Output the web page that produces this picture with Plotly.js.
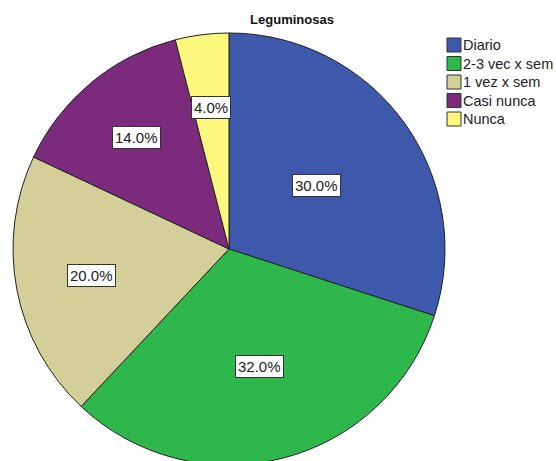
<!DOCTYPE html>
<html>
<head>
<meta charset="utf-8">
<script src="https://cdn.plot.ly/plotly-3.0.1.min.js"></script>
<style>
html,body{margin:0;padding:0;overflow:hidden;background:#fff;}
#chart{width:556px;height:470px;}
</style>
</head>
<body>
<div id="chart"></div>
<script>
const categories = ["Diario", "2-3 vec x sem", "1 vez x sem", "Casi nunca", "Nunca"];
const values = [30.0, 32.0, 20.0, 14.0, 4.0];
const colors = ["#3E58AC", "#2EB84B", "#D4CE99", "#7C2A7C", "#FBF87D"];
// radial distance of each label box, as a fraction of the radius (style)
const labelRadius = [0.50, 0.56, 0.65, 0.67, 0.66];

const W = 556, H = 470;
const M = {l: 13, r: 111, t: 33, b: 5};
const PW = W - M.l - M.r, PH = H - M.t - M.b;
const px2x = px => (px - M.l) / PW;
const py2y = py => (H - M.b - py) / PH;

const FONT = "Liberation Sans, Arial, sans-serif";
const total = values.reduce((a, b) => a + b, 0);
const annotations = [];
const shapes = [];
let cum = 0;
values.forEach((v, i) => {
  const mid = (cum + v / 2) / total * 2 * Math.PI;
  cum += v;
  const r = labelRadius[i] * 0.5;
  annotations.push({
    xref: "paper", yref: "paper",
    x: 0.5 + r * Math.sin(mid),
    y: 0.5 + r * Math.cos(mid),
    xanchor: "center", yanchor: "middle",
    text: (v / total * 100).toFixed(1) + "%",
    showarrow: false,
    font: {family: FONT, size: 15, color: "#222"},
    bgcolor: "#ffffff",
    bordercolor: "#333333",
    borderwidth: 1,
    borderpad: 2
  });
});

// custom legend (SPSS style: small square directly followed by label)
const legendLeft = 447, legendTop = 45, legendStep = 18.5, box = 14;
categories.forEach((c, i) => {
  const cy = legendTop + legendStep * i;
  shapes.push({
    type: "rect", xref: "paper", yref: "paper",
    x0: px2x(legendLeft), x1: px2x(legendLeft + box),
    y0: py2y(cy - box / 2), y1: py2y(cy + box / 2),
    fillcolor: colors[i],
    line: {color: "#333333", width: 1}
  });
  annotations.push({
    xref: "paper", yref: "paper",
    x: px2x(legendLeft + box + 1), y: py2y(cy),
    xanchor: "left", yanchor: "middle",
    text: c, showarrow: false,
    font: {family: FONT, size: 14.5, color: "#222"},
    borderpad: 0
  });
});

const trace = {
  type: "pie",
  labels: categories,
  values: values,
  sort: false,
  direction: "clockwise",
  rotation: 0,
  marker: {colors: colors, line: {color: "#222222", width: 1}},
  textinfo: "none",
  hoverinfo: "label+percent",
  domain: {x: [0, 1], y: [0, 1]}
};

const layout = {
  width: W, height: H,
  margin: {l: M.l, r: M.r, t: M.t, b: M.b, autoexpand: false},
  paper_bgcolor: "#ffffff",
  plot_bgcolor: "#ffffff",
  title: {
    text: "<b>Leguminosas</b>",
    font: {family: FONT, size: 13, color: "#111"},
    x: 292 / W, xref: "container", xanchor: "center",
    y: 1 - 19 / H, yref: "container", yanchor: "middle"
  },
  showlegend: false,
  annotations: annotations,
  shapes: shapes
};

Plotly.newPlot("chart", [trace], layout, {displayModeBar: false, staticPlot: true});
</script>
</body>
</html>
